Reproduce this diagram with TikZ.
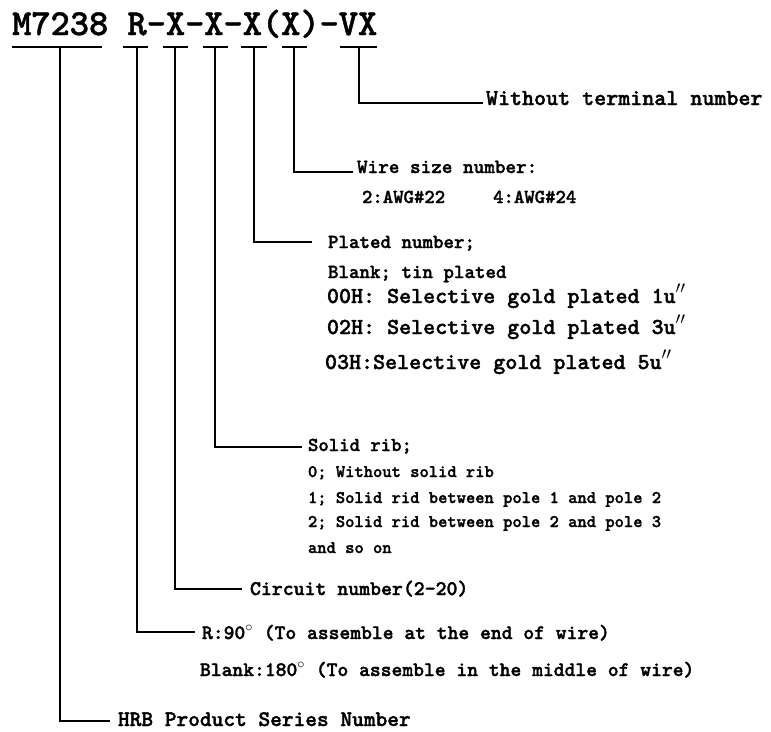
\documentclass[tikz,border=0pt]{standalone}
\usepackage{fontspec}
\newfontfamily\mtt{lmmonolt10-bold.otf}[FakeBold=1.6]
\newfontfamily\mttT{lmmonolt10-bold.otf}[FakeBold=1.2]
\newcommand\fsz[1]{\fontsize{#1}{#1}\selectfont}
\newcommand\dprime{\ensuremath{^{\prime\prime}}}
\newcommand\degr{\ensuremath{^{\circ}}}
\tikzset{
  lead/.style={line width=2pt, line cap=butt, line join=miter},
  ulbar/.style={line width=2pt},
  txt/.style={inner sep=0pt, outer sep=0pt, anchor=base west, font=\mtt},
}
\begin{document}
\begin{tikzpicture}[x=1pt, y=-1pt]
\useasboundingbox (0,0) rectangle (771,731);
% title code
\node[inner sep=0pt, anchor=base west, font=\mttT\fsz{36.6}] (code) at (12,35) {M7238 R-X-X-X(X)-VX};
% underline bars
\draw[ulbar] (12,47) -- (102,47);
\draw[ulbar] (123,47) -- (148,47);
\draw[ulbar] (163,47) -- (188,47);
\draw[ulbar] (203,47) -- (228,47);
\draw[ulbar] (241,47) -- (267,47);
\draw[ulbar] (282,47) -- (307,47);
\draw[ulbar] (340,47) -- (377,47);
% bar points
\coordinate (u0) at (60,47);
\coordinate (u1) at (137,47);
\coordinate (u2) at (175,47);
\coordinate (u3) at (215,47);
\coordinate (u4) at (254,47);
\coordinate (u5) at (294,47);
\coordinate (u6) at (359,47);
% leader ends
\coordinate (e6) at (483,103);
\coordinate (e5) at (353,172);
\coordinate (e4) at (312,242);
\coordinate (e3) at (302,447);
\coordinate (e2) at (242,589);
\coordinate (e1) at (195,632);
\coordinate (e0) at (110,721);
% texts
\node[txt, font=\mtt\fsz{22.9}] (t6) at (486,105) {Without terminal number};
\node[txt, font=\mtt\fsz{20.2}] (t5) at (357,173) {Wire size number:};
\node[txt, font=\mtt\fsz{19.8}] (t5b) at (362,203) {2:AWG\#22\hspace{48pt}4:AWG\#24};
\node[txt, font=\mtt\fsz{20}] (t4) at (328,248) {Plated number;};
\node[txt, font=\mtt\fsz{20}] (t4b) at (328,278) {Blank; tin plated};
\node[txt, font=\mtt\fsz{22.9}] (t4c) at (327,303) {00H: Selective gold plated 1u\dprime};
\node[txt, font=\mtt\fsz{22.9}] (t4d) at (327,334) {02H: Selective gold plated 3u\dprime};
\node[txt, font=\mtt\fsz{22.9}] (t4e) at (325,369) {03H:Selective gold plated 5u\dprime};
\node[txt, font=\mtt\fsz{19.8}] (t3) at (308,451) {Solid rib;};
\node[txt, font=\mtt\fsz{17.7}] (t3a) at (308,477) {0; Without solid rib};
\node[txt, font=\mtt\fsz{17.7}] (t3b) at (308,503) {1; Solid rid between pole 1 and pole 2};
\node[txt, font=\mtt\fsz{17.7}] (t3c) at (308,527) {2; Solid rid between pole 2 and pole 3};
\node[txt, font=\mtt\fsz{17.7}] (t3d) at (308,553) {and so on};
\node[txt, font=\mtt\fsz{20.8}] (t2) at (250,595) {Circuit number(2-20)};
\node[txt, font=\mtt\fsz{20.6}] (t1) at (202,639) {R:90\degr{} (To assemble at the end of wire)};
\node[txt, font=\mtt\fsz{20.6}] (t1b) at (200,676) {Blank:180\degr{} (To assemble in the middle of wire)};
\node[txt, font=\mtt\fsz{22.3}] (t0) at (118,726) {HRB Product Series Number};
% leaders
\draw[lead] (u6) |- (e6);
\draw[lead] (u5) |- (e5);
\draw[lead] (u4) |- (e4);
\draw[lead] (u3) |- (e3);
\draw[lead] (u2) |- (e2);
\draw[lead] (u1) |- (e1);
\draw[lead] (u0) |- (e0);
\end{tikzpicture}
\end{document}
